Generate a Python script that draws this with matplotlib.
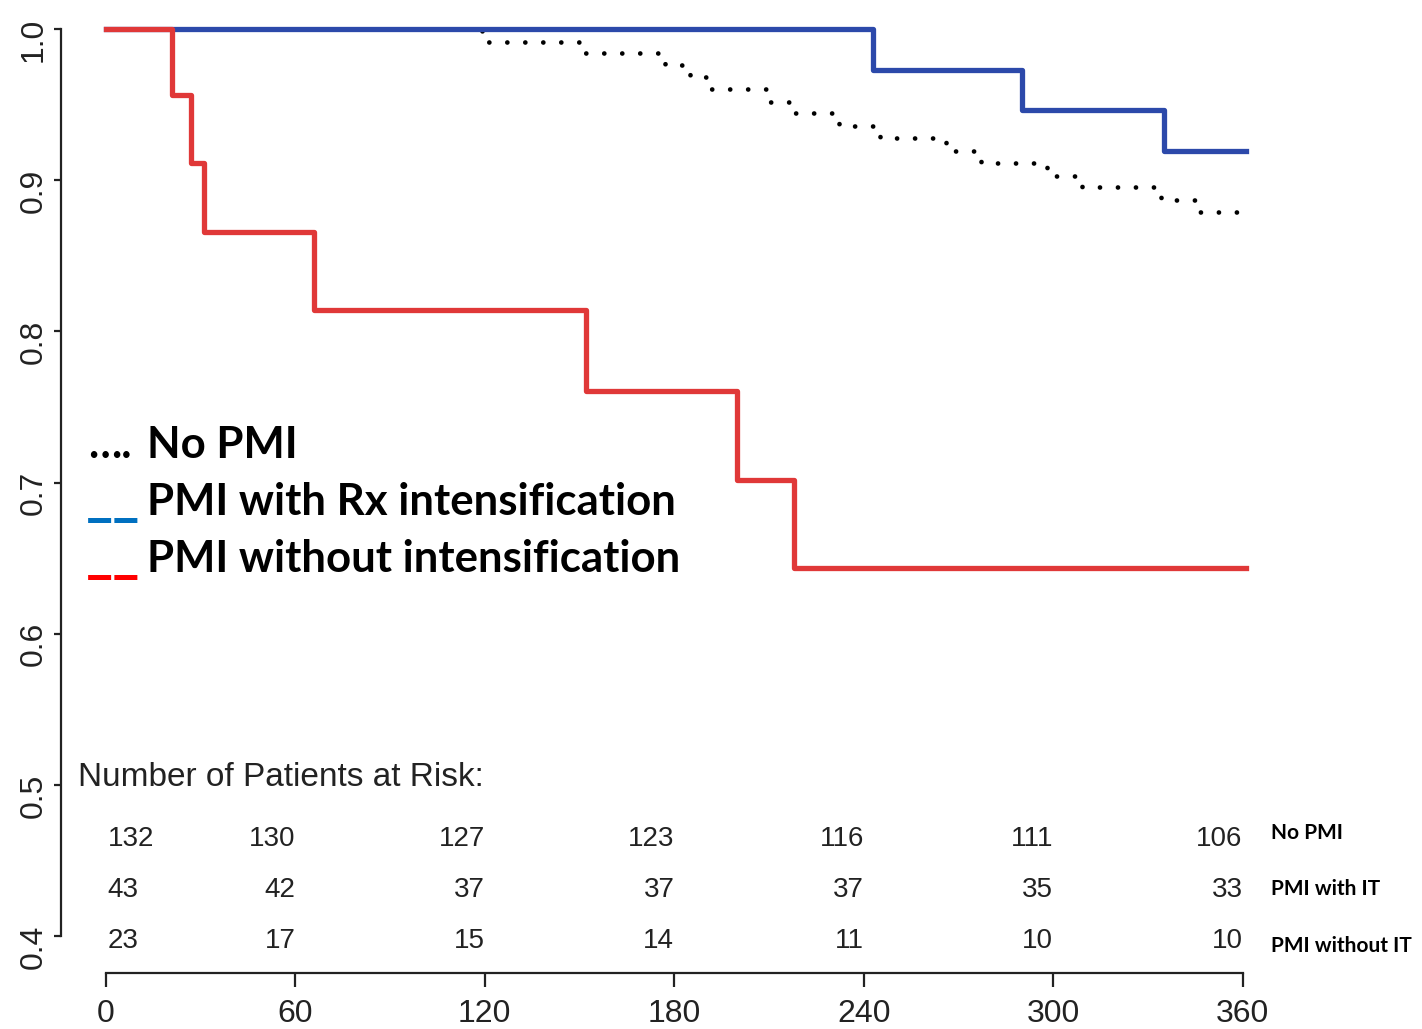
import matplotlib
matplotlib.use("Agg")
import matplotlib.pyplot as plt
import numpy as np

# survival curves (time in days, survival probability)
red_t = [0, 21, 27, 31, 66, 152, 200, 218, 361]
red_s = [1.0, 0.9565, 0.9114, 0.8657, 0.8141, 0.7605, 0.7017, 0.6434, 0.6434]

blue_t = [0, 243, 290, 335, 361]
blue_s = [1.0, 0.9729, 0.9464, 0.9193, 0.9193]

dot_t = [0, 119, 151, 177, 185, 191, 210, 218, 232, 245, 266, 277, 298, 309, 334, 346, 361]
dot_s = [1.0, 0.9916, 0.9839, 0.9762, 0.9682, 0.9601, 0.9519, 0.9442, 0.9358,
         0.9277, 0.9193, 0.9112, 0.9030, 0.8953, 0.8872, 0.8787, 0.8787]

x_ticks = [0, 60, 120, 180, 240, 300, 360]
y_ticks = [0.4, 0.5, 0.6, 0.7, 0.8, 0.9, 1.0]

risk_no_pmi = [132, 130, 127, 123, 116, 111, 106]
risk_with_it = [43, 42, 37, 37, 37, 35, 33]
risk_without_it = [23, 17, 15, 14, 11, 10, 10]
risk_names = ["No PMI", "PMI with IT", "PMI without IT"]

legend_labels = ["No PMI", "PMI with Rx intensification", "PMI without intensification"]

R_FONT = ["Liberation Sans Narrow", "Liberation Sans"]
B_FONT = ["Lato", "DejaVu Sans"]
INK = "#222222"

fig = plt.figure(figsize=(14.22, 10.29), dpi=100)
W, H = 1422, 1029
ax = fig.add_axes([61 / W, (H - 973) / H, (1280 - 61) / W, (973 - 10) / H])
ax.set_xlim(-14.2, 371.8)
ax.set_ylim(0.3755, 1.0126)

ax.step(dot_t, dot_s, where="post", color="black", lw=3.4,
        linestyle=(0, (0.01, 3.8)), dash_capstyle="round", zorder=2)
ax.step(blue_t, blue_s, where="post", color="#2c49aa", lw=3.8, zorder=3)
ax.step(red_t, red_s, where="post", color="#e03838", lw=3.8, zorder=4)

# R style axes
for s in ["top", "right"]:
    ax.spines[s].set_visible(False)
ax.spines["left"].set_bounds(0.4, 1.0)
ax.spines["bottom"].set_bounds(0, 360)
for s in ["left", "bottom"]:
    ax.spines[s].set_linewidth(1.6)
    ax.spines[s].set_color(INK)

ax.set_xticks(x_ticks)
ax.set_xticklabels([str(v) for v in x_ticks], family=R_FONT)
ax.set_yticks(y_ticks)
ax.set_yticklabels([f"{v:.1f}" for v in y_ticks], family=R_FONT, rotation=90)
ax.tick_params(axis="x", length=10, width=1.6, pad=8.5, labelsize=23, colors=INK)
ax.tick_params(axis="y", length=5, width=1.6, pad=4, labelsize=23, colors=INK)

# numbers at risk
ax.text(-8.9, 0.4992, "Number of Patients at Risk:", fontsize=24, family=R_FONT,
        color=INK, ha="left", va="baseline")
rows = [risk_no_pmi, risk_with_it, risk_without_it]
row_y = [0.4595, 0.4258, 0.3921]
name_y = [0.4642, 0.4271, 0.3894]
for vals, yy, name, ny in zip(rows, row_y, risk_names, name_y):
    for i, (t, v) in enumerate(zip(x_ticks, vals)):
        if i == 0:
            ax.text(t + 0.6, yy, str(v), ha="left", va="baseline", fontsize=20,
                    family=R_FONT, color=INK)
        else:
            ax.text(t, yy, str(v), ha="right", va="baseline", fontsize=20,
                    family=R_FONT, color=INK)
    ax.text(368.9, ny, name, ha="left", va="baseline", fontsize=15,
            family=B_FONT, fontweight="bold", color="black", clip_on=False)

# hand made legend
leg_y = [0.7162, 0.6785, 0.6408]
ax.text(-5.7, leg_y[0], "\u2026.", ha="left", va="baseline", fontsize=31,
        family=B_FONT, fontweight="bold", color="black")
ax.text(-6.3, leg_y[1], "__", ha="left", va="baseline", fontsize=42,
        family=B_FONT, fontweight="bold", color="#0070c0")
ax.text(-6.3, leg_y[2], "__", ha="left", va="baseline", fontsize=42,
        family=B_FONT, fontweight="bold", color="#ff0000")
for yy, lab in zip(leg_y, legend_labels):
    ax.text(13.0, yy, lab, ha="left", va="baseline", fontsize=31.5,
            family=B_FONT, fontweight="bold", color="black")

fig.savefig("out.png", dpi=100)
